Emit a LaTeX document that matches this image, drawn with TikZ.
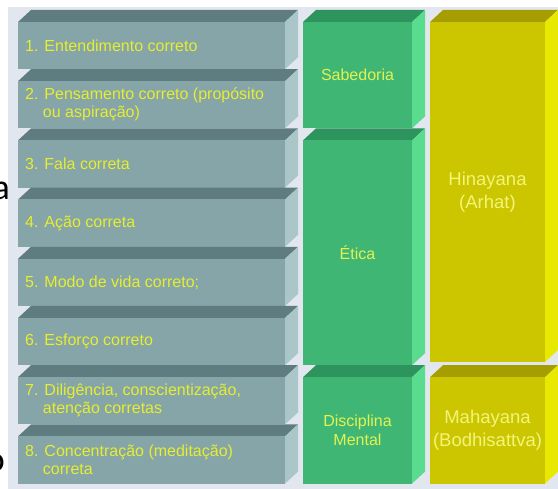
\documentclass[tikz,border=0pt]{standalone}
\usepackage{fontspec}
\setmainfont{Liberation Sans}
\newfontfamily\strayfont{Carlito}
\definecolor{panel}{RGB}{226,230,238}
\definecolor{grayF}{RGB}{134,165,168}
\definecolor{grayT}{RGB}{95,125,128}
\definecolor{grayS}{RGB}{170,198,201}
\definecolor{greenF}{RGB}{64,182,116}
\definecolor{greenT}{RGB}{44,148,92}
\definecolor{greenS}{RGB}{90,220,142}
\definecolor{yelF}{RGB}{204,198,0}
\definecolor{yelT}{RGB}{166,158,0}
\definecolor{yelS}{RGB}{232,232,0}
\definecolor{txtA}{RGB}{230,238,46}
\definecolor{txtB}{RGB}{226,242,80}
\definecolor{txtC}{RGB}{244,244,120}
\newcommand\slab[7]{%
  \fill[#6] (#1,#3+12) -- (#1+13,#3) -- (#2+13,#3) -- (#2,#3+12) -- cycle;
  \fill[#5] (#1,#3+12) rectangle (#2,#4);
  \fill[#7] (#2,#3+12) -- (#2+13,#3) -- (#2+13,#4-12) -- (#2,#4) -- cycle;
}
\newcommand\hang[1]{\hphantom{#1\ }}
\tikzset{
  pathtxt/.style={anchor=west, inner sep=0pt, text=txtA, font=\fontsize{16}{18}\selectfont, align=left},
  grouptxt/.style={inner sep=0pt, text=txtB, font=\fontsize{16}{18.5}\selectfont, align=center},
  schooltxt/.style={inner sep=0pt, text=txtC, font=\fontsize{18.5}{23}\selectfont, align=center},
  stray/.style={inner sep=0pt, text=black, font=\strayfont\fontsize{36}{40}\selectfont}
}
\begin{document}
\begin{tikzpicture}[x=1pt,y=-1pt]
\useasboundingbox (0,0) rectangle (558,489);
\fill[white] (0,0) rectangle (558,489);
\fill[panel] (8,7) rectangle (558,489);
% stray letters from the slide behind
\node[stray, anchor=base east] (sa) at (10,200) {a};
\node[stray, anchor=base east] (so) at (5,472) {o};
% eight path slabs
\foreach \i in {0,...,7}{
  \pgfmathsetmacro\ya{10+59.2*\i}
  \pgfmathsetmacro\yb{10+59.2*(\i+1)}
  \slab{18}{285}{\ya}{\yb}{grayF}{grayT}{grayS}
}
% green groups
\slab{303}{412}{10}{128.4}{greenF}{greenT}{greenS}
\slab{303}{412}{128.4}{365.2}{greenF}{greenT}{greenS}
\slab{303}{412}{365.2}{483.6}{greenF}{greenT}{greenS}
% yellow schools
\slab{430}{545}{10}{362}{yelF}{yelT}{yelS}
\slab{430}{545}{365.2}{483.6}{yelF}{yelT}{yelS}
% texts
\node[pathtxt] (p1) at (25,45.6) {1. Entendimento correto};
\node[pathtxt] (p2) at (25,104.8) {2. Pensamento correto (propósito\\\hang{2.}ou aspiração)};
\node[pathtxt] (p3) at (25,164) {3. Fala correta};
\node[pathtxt] (p4) at (25,223.2) {4. Ação correta};
\node[pathtxt] (p5) at (25,282.4) {5. Modo de vida correto;};
\node[pathtxt] (p6) at (25,341.6) {6. Esforço correto};
\node[pathtxt] (p7) at (25,400.8) {7. Diligência, conscientização,\\\hang{7.}atenção corretas};
\node[pathtxt] (p8) at (25,460) {8. Concentração (meditação)\\\hang{8.}correta};
\node[grouptxt] (g1) at (357.5,75.2) {Sabedoria};
\node[grouptxt] (g2) at (357.5,252.8) {Ética};
\node[grouptxt] (g3) at (357.5,430.4) {Disciplina\\Mental};
\node[schooltxt] (s1) at (487.5,192) {Hinayana\\(Arhat)};
\node[schooltxt] (s2) at (487.5,430.4) {Mahayana\\(Bodhisattva)};
\end{tikzpicture}
\end{document}
